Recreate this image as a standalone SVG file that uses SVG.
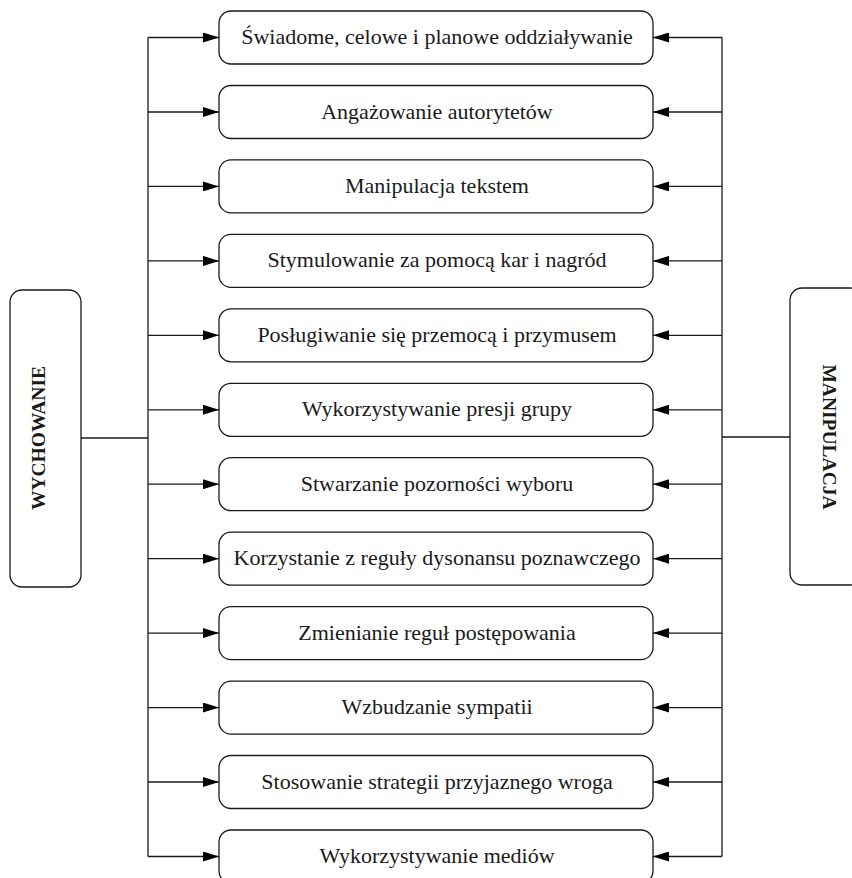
<svg xmlns="http://www.w3.org/2000/svg" width="852" height="878" viewBox="0 0 852 878">
<style>
.box{fill:#fff;stroke:#1a1a1a;stroke-width:1.3}
.lbl{font-family:"Liberation Serif","Times New Roman",serif;font-size:22px;fill:#1a1a1a;text-anchor:middle}
.big{font-family:"Liberation Serif","Times New Roman",serif;font-size:19.5px;font-weight:bold;fill:#1a1a1a;text-anchor:middle}
.ln{fill:none;stroke:#1a1a1a;stroke-width:1.3}
</style>
<defs>
<marker id="ah" markerUnits="userSpaceOnUse" markerWidth="16" markerHeight="10" refX="16" refY="5" orient="auto">
<path d="M0,0 L16,5 L0,10 z" fill="#000"/>
</marker>
</defs>
<rect width="852" height="878" fill="#fff"/>
<g id="connectors">
<line class="ln" x1="81" y1="438" x2="148" y2="438"/>
<line class="ln" x1="148" y1="37.5" x2="148" y2="856.5"/>
<line class="ln" x1="722" y1="437" x2="790" y2="437"/>
<line class="ln" x1="722" y1="37.5" x2="722" y2="856.5"/>
<g marker-end="url(#ah)">
<line class="ln" x1="148" y1="37.5" x2="219" y2="37.5"/>
<line class="ln" x1="148" y1="112" x2="219" y2="112"/>
<line class="ln" x1="148" y1="186.4" x2="219" y2="186.4"/>
<line class="ln" x1="148" y1="260.9" x2="219" y2="260.9"/>
<line class="ln" x1="148" y1="335.3" x2="219" y2="335.3"/>
<line class="ln" x1="148" y1="409.8" x2="219" y2="409.8"/>
<line class="ln" x1="148" y1="484.2" x2="219" y2="484.2"/>
<line class="ln" x1="148" y1="558.7" x2="219" y2="558.7"/>
<line class="ln" x1="148" y1="633.1" x2="219" y2="633.1"/>
<line class="ln" x1="148" y1="707.6" x2="219" y2="707.6"/>
<line class="ln" x1="148" y1="782" x2="219" y2="782"/>
<line class="ln" x1="148" y1="856.5" x2="219" y2="856.5"/>
<line class="ln" x1="722" y1="37.5" x2="653" y2="37.5"/>
<line class="ln" x1="722" y1="112" x2="653" y2="112"/>
<line class="ln" x1="722" y1="186.4" x2="653" y2="186.4"/>
<line class="ln" x1="722" y1="260.9" x2="653" y2="260.9"/>
<line class="ln" x1="722" y1="335.3" x2="653" y2="335.3"/>
<line class="ln" x1="722" y1="409.8" x2="653" y2="409.8"/>
<line class="ln" x1="722" y1="484.2" x2="653" y2="484.2"/>
<line class="ln" x1="722" y1="558.7" x2="653" y2="558.7"/>
<line class="ln" x1="722" y1="633.1" x2="653" y2="633.1"/>
<line class="ln" x1="722" y1="707.6" x2="653" y2="707.6"/>
<line class="ln" x1="722" y1="782" x2="653" y2="782"/>
<line class="ln" x1="722" y1="856.5" x2="653" y2="856.5"/>
</g>
</g>
<g id="wychowanie">
<rect class="box" x="10" y="290" width="71" height="297" rx="12"/>
<text class="big" transform="translate(45,438) rotate(-90)">WYCHOWANIE</text>
</g>
<g id="manipulacja">
<rect class="box" x="790" y="288" width="72" height="297" rx="12"/>
<text class="big" transform="translate(823,437) rotate(90)">MANIPULACJA</text>
</g>
<g id="n1"><rect class="box" x="219" y="11" width="434" height="53" rx="12"/><text class="lbl" x="437" y="44">Świadome, celowe i planowe oddziaływanie</text></g>
<g id="n2"><rect class="box" x="219" y="85.5" width="434" height="53" rx="12"/><text class="lbl" x="437" y="118.5">Angażowanie autorytetów</text></g>
<g id="n3"><rect class="box" x="219" y="159.9" width="434" height="53" rx="12"/><text class="lbl" x="437" y="192.9">Manipulacja tekstem</text></g>
<g id="n4"><rect class="box" x="219" y="234.4" width="434" height="53" rx="12"/><text class="lbl" x="437" y="267.4">Stymulowanie za pomocą kar i nagród</text></g>
<g id="n5"><rect class="box" x="219" y="308.8" width="434" height="53" rx="12"/><text class="lbl" x="437" y="341.8">Posługiwanie się przemocą i przymusem</text></g>
<g id="n6"><rect class="box" x="219" y="383.3" width="434" height="53" rx="12"/><text class="lbl" x="437" y="416.3">Wykorzystywanie presji grupy</text></g>
<g id="n7"><rect class="box" x="219" y="457.7" width="434" height="53" rx="12"/><text class="lbl" x="437" y="490.7">Stwarzanie pozorności wyboru</text></g>
<g id="n8"><rect class="box" x="219" y="532.2" width="434" height="53" rx="12"/><text class="lbl" x="437" y="565.2">Korzystanie z reguły dysonansu poznawczego</text></g>
<g id="n9"><rect class="box" x="219" y="606.6" width="434" height="53" rx="12"/><text class="lbl" x="437" y="639.6">Zmienianie reguł postępowania</text></g>
<g id="n10"><rect class="box" x="219" y="681.1" width="434" height="53" rx="12"/><text class="lbl" x="437" y="714.1">Wzbudzanie sympatii</text></g>
<g id="n11"><rect class="box" x="219" y="755.5" width="434" height="53" rx="12"/><text class="lbl" x="437" y="788.5">Stosowanie strategii przyjaznego wroga</text></g>
<g id="n12"><rect class="box" x="219" y="830" width="434" height="53" rx="12"/><text class="lbl" x="437" y="863">Wykorzystywanie mediów</text></g>
</svg>
